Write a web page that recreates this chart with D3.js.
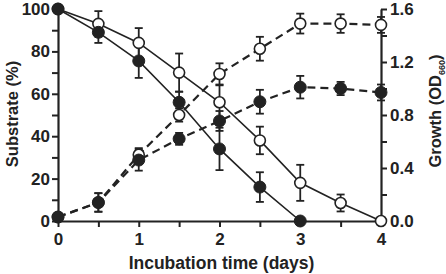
<!DOCTYPE html>
<html>
<head>
<meta charset="utf-8">
<script src="https://cdn.jsdelivr.net/npm/d3@7"></script>
<style>
  body { margin: 0; background: #fff; }
  svg text { font-family: "Liberation Sans", Arial, sans-serif; font-weight: bold; fill: #222; }
</style>
</head>
<body>
<div id="chart"></div>
<script>
  // incubation days
  const days = [0, 0.5, 1, 1.5, 2, 2.5, 3, 3.5, 4];

  // substrate (%) - solid lines
  const substrateOpen = [100, 93, 84, 70, 56, 38, 18, 8.5, 0];
  const substrateOpenErr = [0, 6, 7, 9, 8, 6.5, 8.5, 4, 0];
  const substrateFilled = [100, 89, 75.5, 56, 34, 16, 0];
  const substrateFilledErr = [0, 5, 8, 5, 10, 7, 0];

  // growth (OD660) - dashed lines
  const growthOpen = [0.03, 0.14, 0.5, 0.8, 1.11, 1.3, 1.49, 1.49, 1.48];
  const growthOpenErr = [0.02, 0.07, 0.05, 0.05, 0.08, 0.09, 0.075, 0.07, 0.06];
  const growthFilled = [0.03, 0.14, 0.46, 0.62, 0.755, 0.9, 1.01, 1.0, 0.97];
  const growthFilledErr = [0.02, 0.07, 0.08, 0.045, 0.075, 0.09, 0.085, 0.05, 0.06];

  const xTicks = [0, 1, 2, 3, 4];
  const xMinor = [0.5, 1.5, 2.5, 3.5];
  const leftTicks = [0, 20, 40, 60, 80, 100];
  const leftMinor = [10, 30, 50, 70, 90];
  const rightTicks = [0, 0.4, 0.8, 1.2, 1.6];
  const rightMinor = [0.2, 0.6, 1.0, 1.4];

  const W = 446, H = 274;
  const ink = "#222";

  const x = d3.scaleLinear().domain([0, 4]).range([58, 381]);
  const yL = d3.scaleLinear().domain([0, 100]).range([221, 9]);
  const yR = d3.scaleLinear().domain([0, 1.6]).range([221, 9]);

  const svg = d3.select("#chart").append("svg")
    .attr("width", W).attr("height", H);

  // axes
  function styleAxis(g) {
    g.select(".domain").attr("stroke", ink).attr("stroke-width", 2.2);
    g.selectAll(".tick line").attr("stroke", ink).attr("stroke-width", 2);
    g.selectAll(".tick text").style("font-size", "17px").style("fill", ink);
  }

  svg.append("g")
    .attr("transform", `translate(0,${yL(0)})`)
    .call(d3.axisBottom(x).tickValues(xTicks).tickSize(6).tickSizeOuter(0).tickPadding(6).tickFormat(d3.format("d")))
    .call(styleAxis);
  svg.append("g")
    .attr("transform", `translate(0,${yL(0)})`)
    .call(d3.axisBottom(x).tickValues(xMinor).tickSize(6).tickSizeOuter(0).tickFormat(""))
    .call(styleAxis)
    .select(".domain").remove();

  svg.append("g")
    .attr("transform", `translate(${x(0)},0)`)
    .call(d3.axisLeft(yL).tickValues(leftTicks).tickSize(6).tickSizeOuter(0).tickPadding(2))
    .call(styleAxis);
  svg.append("g")
    .attr("transform", `translate(${x(0)},0)`)
    .call(d3.axisLeft(yL).tickValues(leftMinor).tickSize(6).tickSizeOuter(0).tickFormat(""))
    .call(styleAxis)
    .select(".domain").remove();

  svg.append("g")
    .attr("transform", `translate(${x(4)},0)`)
    .call(d3.axisRight(yR).tickValues(rightTicks).tickSize(6).tickSizeOuter(0).tickPadding(3).tickFormat(d3.format(".1f")))
    .call(styleAxis);
  svg.append("g")
    .attr("transform", `translate(${x(4)},0)`)
    .call(d3.axisRight(yR).tickValues(rightMinor).tickSize(6).tickSizeOuter(0).tickFormat(""))
    .call(styleAxis)
    .select(".domain").remove();

  // axis titles
  svg.append("text")
    .attr("x", (x(0) + x(4)) / 2 + 2).attr("y", 269)
    .attr("text-anchor", "middle").style("font-size", "17.5px")
    .text("Incubation time (days)");

  svg.append("text")
    .attr("transform", `translate(18,${yL(50) - 1}) rotate(-90)`)
    .attr("text-anchor", "middle").style("font-size", "16.5px")
    .text("Substrate (%)");

  const rt = svg.append("text")
    .attr("transform", `translate(441,${yR(0.8) - 4}) rotate(-90)`)
    .attr("text-anchor", "middle").style("font-size", "16.5px");
  rt.append("tspan").text("Growth (OD");
  rt.append("tspan").attr("dy", 4).style("font-size", "9px").text("660");
  rt.append("tspan").attr("dy", -4).text(")");

  // series
  const series = [
    { vals: substrateOpen, err: substrateOpenErr, y: yL, open: true, dashed: false },
    { vals: substrateFilled, err: substrateFilledErr, y: yL, open: false, dashed: false },
    { vals: growthOpen, err: growthOpenErr, y: yR, open: true, dashed: true },
    { vals: growthFilled, err: growthFilledErr, y: yR, open: false, dashed: true }
  ];

  const plot = svg.append("g");

  series.forEach((s) => {
    const pts = s.vals.map((v, i) => ({ d: days[i], v, e: s.err[i] }));
    const line = d3.line().x((p) => x(p.d)).y((p) => s.y(p.v));
    plot.append("path")
      .datum(pts)
      .attr("d", line)
      .attr("fill", "none")
      .attr("stroke", ink)
      .attr("stroke-width", s.dashed ? 2.2 : 1.6)
      .attr("stroke-dasharray", s.dashed ? "8,5" : null);
  });

  series.forEach((s) => {
    const pts = s.vals.map((v, i) => ({ d: days[i], v, e: s.err[i] }));
    const eb = plot.append("g").selectAll("g").data(pts.filter((p) => p.e > 0)).join("g");
    eb.append("line")
      .attr("x1", (p) => x(p.d)).attr("x2", (p) => x(p.d))
      .attr("y1", (p) => s.y(p.v - p.e)).attr("y2", (p) => s.y(p.v + p.e))
      .attr("stroke", ink).attr("stroke-width", 1.8);
    [-1, 1].forEach((sg) => {
      eb.append("line")
        .attr("x1", (p) => x(p.d) - 4).attr("x2", (p) => x(p.d) + 4)
        .attr("y1", (p) => s.y(p.v + sg * p.e)).attr("y2", (p) => s.y(p.v + sg * p.e))
        .attr("stroke", ink).attr("stroke-width", 1.8);
    });
  });

  series.forEach((s) => {
    const pts = s.vals.map((v, i) => ({ d: days[i], v }));
    plot.append("g").selectAll("circle").data(pts).join("circle")
      .attr("cx", (p) => x(p.d)).attr("cy", (p) => s.y(p.v))
      .attr("r", s.open ? 5.5 : 6)
      .attr("fill", s.open ? "#fff" : ink)
      .attr("stroke", ink).attr("stroke-width", s.open ? 1.6 : 1);
  });
</script>
</body>
</html>
